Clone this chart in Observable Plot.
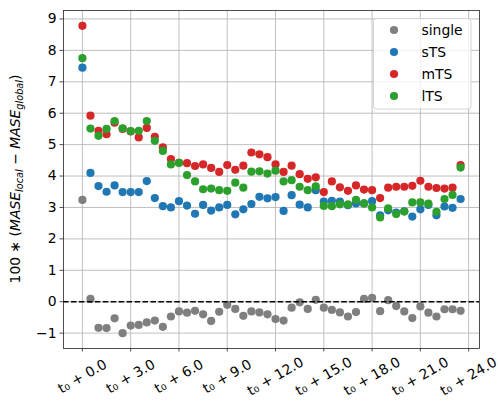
<!DOCTYPE html>
<html>
<head>
<meta charset="utf-8">
<script src="https://cdn.jsdelivr.net/npm/d3@7"></script>
<script src="https://cdn.jsdelivr.net/npm/@observablehq/plot@0.6"></script>
<style>
  html, body { margin: 0; padding: 0; background: white; }
  #chart { width: 498px; height: 401px; }
</style>
</head>
<body>
<div id="chart"></div>
<script>
// horizons t0 + 0.0 ... t0 + 23.5
const steps = d3.range(0, 48).map(i => i * 0.5);
const seriesNames = ["single", "sTS", "mTS", "lTS"];
const seriesColors = ["#7f7f7f", "#1f77b4", "#d62728", "#2ca02c"];
const xTicks = [0, 3, 6, 9, 12, 15, 18, 21, 24];
const yTicks = [-1, 0, 1, 2, 3, 4, 5, 6, 7, 8, 9];

const single = [3.24, 0.09, -0.83, -0.84, -0.53, -1.00, -0.76, -0.74, -0.66, -0.60,
  -0.80, -0.47, -0.31, -0.35, -0.29, -0.40, -0.61, -0.32, -0.10, -0.23,
  -0.45, -0.31, -0.34, -0.40, -0.55, -0.60, -0.19, -0.02, -0.23, 0.06,
  -0.19, -0.26, -0.34, -0.47, -0.33, 0.09, 0.12, -0.30, 0.05, -0.14,
  -0.31, -0.52, -0.15, -0.35, -0.47, -0.24, -0.24, -0.29];
const sTS = [7.45, 4.10, 3.68, 3.50, 3.70, 3.49, 3.49, 3.49, 3.84, 3.30,
  3.04, 3.00, 3.20, 3.06, 2.80, 3.08, 2.90, 3.00, 3.08, 2.78,
  2.94, 3.11, 3.34, 3.29, 3.33, 2.89, 3.39, 3.09, 3.00, 3.55,
  3.19, 3.21, 3.19, 3.07, 3.13, 3.13, 3.20, 2.75, 2.91, 2.84,
  2.88, 2.71, 2.94, 3.08, 2.75, 3.03, 2.99, 3.27];
const mTS = [8.78, 5.92, 5.44, 5.33, 5.70, 5.50, 5.42, 5.23, 5.53, 5.25,
  4.91, 4.54, 4.42, 4.41, 4.32, 4.37, 4.26, 4.13, 4.35, 4.20,
  4.33, 4.75, 4.69, 4.60, 4.37, 4.13, 4.33, 4.06, 3.91, 3.96,
  3.49, 3.83, 3.64, 3.53, 3.70, 3.57, 3.55, 3.30, 3.63, 3.66,
  3.66, 3.69, 3.85, 3.66, 3.62, 3.60, 3.63, 4.35];
const lTS = [7.75, 5.51, 5.28, 5.50, 5.75, 5.52, 5.43, 5.44, 5.75, 5.12,
  4.80, 4.37, 4.42, 4.03, 3.83, 3.58, 3.60, 3.55, 3.53, 3.79,
  3.63, 4.14, 4.15, 4.08, 4.17, 3.83, 3.87, 3.66, 3.55, 3.67,
  3.05, 3.04, 3.10, 3.10, 3.24, 3.13, 3.00, 2.68, 2.97, 2.79,
  2.87, 3.16, 3.16, 3.12, 2.86, 3.27, 3.40, 4.27];

const seriesValues = [single, sTS, mTS, lTS];
const data = [];
seriesNames.forEach((name, k) => {
  seriesValues[k].forEach((v, i) => data.push({series: name, t: steps[i], v}));
});

// matplotlib-like 5% margins
const xMin = d3.min(steps), xMax = d3.max(steps);
const yMin = d3.min(data, d => d.v), yMax = d3.max(data, d => d.v);
const xPad = (xMax - xMin) * 0.05, yPad = (yMax - yMin) * 0.05;

const FS = 13.9;
const minus = d => d < 0 ? "\u2212" + (-d) : String(d);

const plot = Plot.plot({
  width: 498,
  height: 401,
  marginLeft: 63,
  marginRight: 19,
  marginTop: 10,
  marginBottom: 53,
  style: {fontFamily: "'DejaVu Sans', sans-serif", fontSize: FS + "px", background: "white", color: "black"},
  x: {domain: [xMin - xPad, xMax + xPad], label: null},
  y: {domain: [yMin - yPad, yMax + yPad], label: null},
  color: {domain: seriesNames, range: seriesColors},
  marks: [
    Plot.gridX(xTicks, {stroke: "#b0b0b0", strokeOpacity: 1, strokeWidth: 0.8}),
    Plot.gridY(yTicks, {stroke: "#b0b0b0", strokeOpacity: 1, strokeWidth: 0.8}),
    Plot.dot(data, {x: "t", y: "v", fill: "series", r: 4.1, stroke: "none"}),
    Plot.ruleY([0], {stroke: "black", strokeWidth: 1.5, strokeDasharray: "5.55,2.4"}),
    Plot.axisY(yTicks, {tickSize: 3.5, tickPadding: 3.5, tickFormat: minus, fontSize: FS, label: null, stroke: "#222", strokeWidth: 0.8}),
    Plot.axisX(xTicks, {tickSize: 3.5, tickFormat: () => "", label: null, stroke: "#222", strokeWidth: 0.8}),
    Plot.text(xTicks, {x: d => d, text: d => `t\u2080 + ${d.toFixed(1)}`, frameAnchor: "bottom", dy: 28, rotate: -30, textAnchor: "middle", lineAnchor: "middle", fontSize: FS, fill: "black"}),
    Plot.frame({stroke: "#222", strokeWidth: 0.8})
  ]
});

document.getElementById("chart").appendChild(plot);

const svg = d3.select(plot);

// y-axis label with subscripts
const lab = svg.append("text")
  .attr("transform", "translate(20,179) rotate(-90)")
  .attr("text-anchor", "middle")
  .attr("font-family", "'DejaVu Sans', sans-serif")
  .attr("font-size", FS)
  .attr("fill", "black");
lab.append("tspan").text("100 \u2217 (");
lab.append("tspan").attr("font-style", "italic").text("MASE");
lab.append("tspan").attr("font-style", "italic").attr("font-size", FS * 0.7).attr("dy", 3).text("local");
lab.append("tspan").attr("dy", -3).text(" \u2212 ");
lab.append("tspan").attr("font-style", "italic").text("MASE");
lab.append("tspan").attr("font-style", "italic").attr("font-size", FS * 0.7).attr("dy", 3).text("global");
lab.append("tspan").attr("dy", -3).text(")");

// legend
const lg = svg.append("g").attr("font-family", "'DejaVu Sans', sans-serif").attr("font-size", FS).attr("text-anchor", "start");
lg.append("rect").attr("x", 373.5).attr("y", 18.5).attr("width", 97.5).attr("height", 90.5)
  .attr("rx", 3).attr("fill", "white").attr("fill-opacity", 0.8).attr("stroke", "#cccccc").attr("stroke-width", 0.8);
seriesNames.forEach((name, i) => {
  const y = 30 + i * 22;
  lg.append("circle").attr("cx", 394).attr("cy", y).attr("r", 4.1).attr("fill", seriesColors[i]);
  lg.append("text").attr("x", 421.5).attr("y", y).attr("dy", "0.35em").attr("text-anchor", "start").attr("fill", "black").text(name);
});
</script>
</body>
</html>
